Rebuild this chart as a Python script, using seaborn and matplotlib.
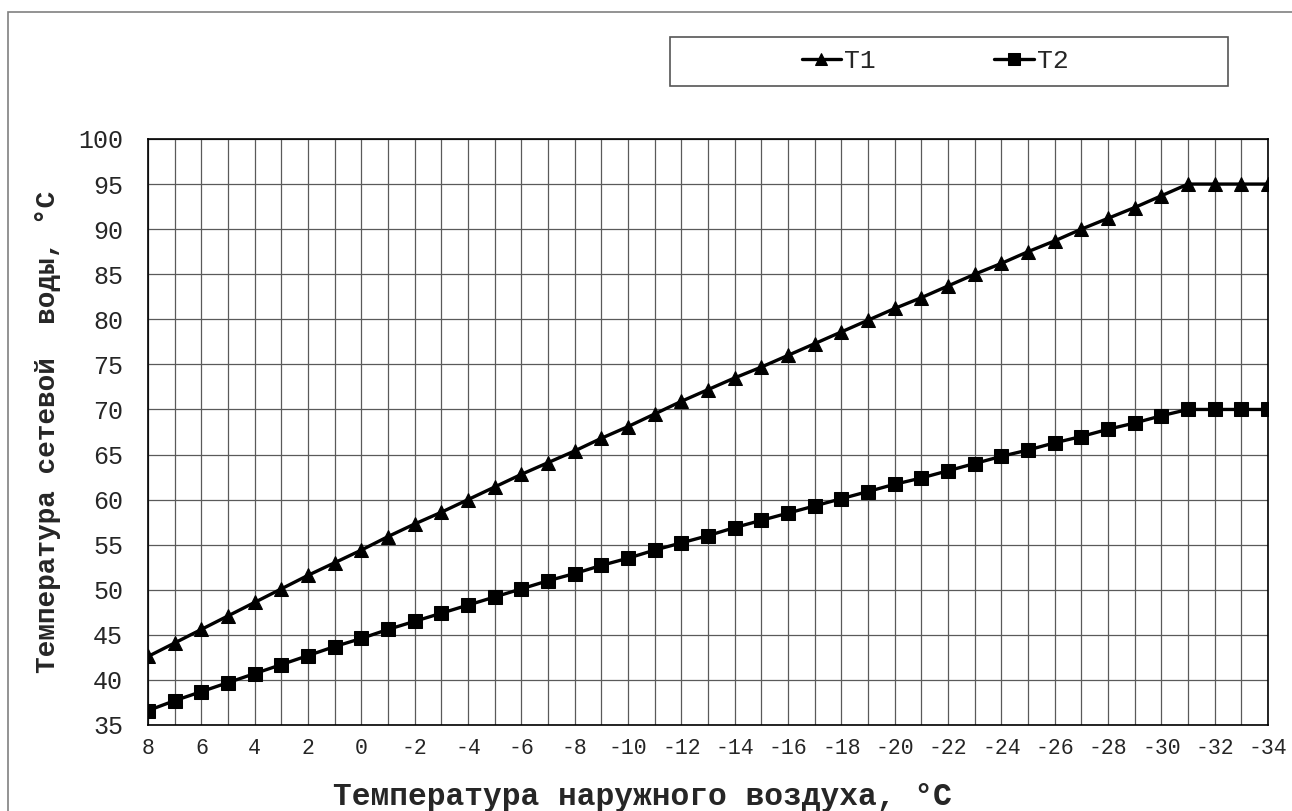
import seaborn as sns
import pandas as pd
import matplotlib.pyplot as plt
from matplotlib.patches import Rectangle

# outdoor air temperature, deg C (left to right on the chart)
t_out = list(range(8, -35, -1))

# supply water temperature T1
t1 = [42.6, 44.1, 45.6, 47.1, 48.6, 50.1, 51.6, 53.0, 54.4, 55.9,
      57.3, 58.6, 60.0, 61.4, 62.8, 64.1, 65.4, 66.8, 68.1, 69.5,
      70.9, 72.2, 73.5, 74.7, 76.0, 77.3, 78.6, 79.9, 81.2, 82.4,
      83.7, 85.0, 86.2, 87.5, 88.7, 90.0, 91.2, 92.4, 93.7, 95.0,
      95.0, 95.0, 95.0]

# return water temperature T2
t2 = [36.6, 37.7, 38.7, 39.7, 40.7, 41.7, 42.7, 43.7, 44.6, 45.6,
      46.5, 47.4, 48.3, 49.2, 50.1, 51.0, 51.8, 52.7, 53.5, 54.4,
      55.2, 56.0, 56.9, 57.7, 58.5, 59.3, 60.1, 60.9, 61.7, 62.4,
      63.2, 64.0, 64.8, 65.5, 66.3, 67.0, 67.8, 68.5, 69.3, 70.0,
      70.0, 70.0, 70.0]

series_names = ['T1', 'T2']

x_ticks = list(range(8, -35, -2))
y_ticks = list(range(35, 101, 5))

df = pd.DataFrame({
    'x': t_out * 2,
    'temp': t1 + t2,
    'series': [series_names[0]] * len(t1) + [series_names[1]] * len(t2),
})

sns.set_style('white')
plt.rcParams['font.family'] = ['Liberation Mono', 'DejaVu Sans Mono']

fig = plt.figure(figsize=(12.92, 8.11), dpi=100)
ax = fig.add_axes([148 / 1292, 1 - 725 / 811, 1120 / 1292, 586 / 811])

# outer chart border
fig.add_artist(Rectangle((8 / 1292, -0.05), 1.1, 1 - 12 / 811 + 0.05,
                         transform=fig.transFigure, fill=False,
                         edgecolor='#808080', linewidth=1.2))

sns.lineplot(data=df, x='x', y='temp', hue='series', style='series',
             markers=['^', 's'], dashes=False,
             palette=['black', 'black'], linewidth=2.4, markersize=10,
             markeredgecolor='black', ax=ax, zorder=3)

ax.set_xlim(8, -34)
ax.set_ylim(35, 100)
ax.set_xticks(t_out)
ax.set_xticklabels([str(v) if v in x_ticks else '' for v in t_out],
                   fontsize=15.5)
ax.set_yticks(y_ticks)
ax.set_yticklabels([str(v) for v in y_ticks], fontsize=18)
ax.tick_params(axis='both', length=0)
ax.tick_params(axis='y', pad=18)
ax.tick_params(axis='x', pad=9)

ax.grid(True, color='#5a5a5a', linewidth=0.9)
for s in ax.spines.values():
    s.set_color('black')
    s.set_linewidth(1.2)

ax.set_xlabel('Температура наружного воздуха, °C', fontsize=22.5,
              fontweight='bold')
ax.xaxis.set_label_coords(0.441, -57 / 586, transform=ax.transAxes)
ax.set_ylabel('Температура сетевой  воды, °C', fontsize=20,
              fontweight='bold', labelpad=12)

# legend box on top
fig.add_artist(Rectangle((670 / 1292, 1 - 86 / 811), 558 / 1292, 49 / 811,
                         transform=fig.transFigure, fill=False,
                         edgecolor='#555555', linewidth=1.2))
ax.legend(loc='center', bbox_to_anchor=(935 / 1292, 1 - 61 / 811),
          bbox_transform=fig.transFigure, ncol=2, frameon=False,
          fontsize=19, handlelength=1.5, handletextpad=0.1,
          columnspacing=4.5, markerscale=0.85)

plt.savefig('out.png', dpi=100)
